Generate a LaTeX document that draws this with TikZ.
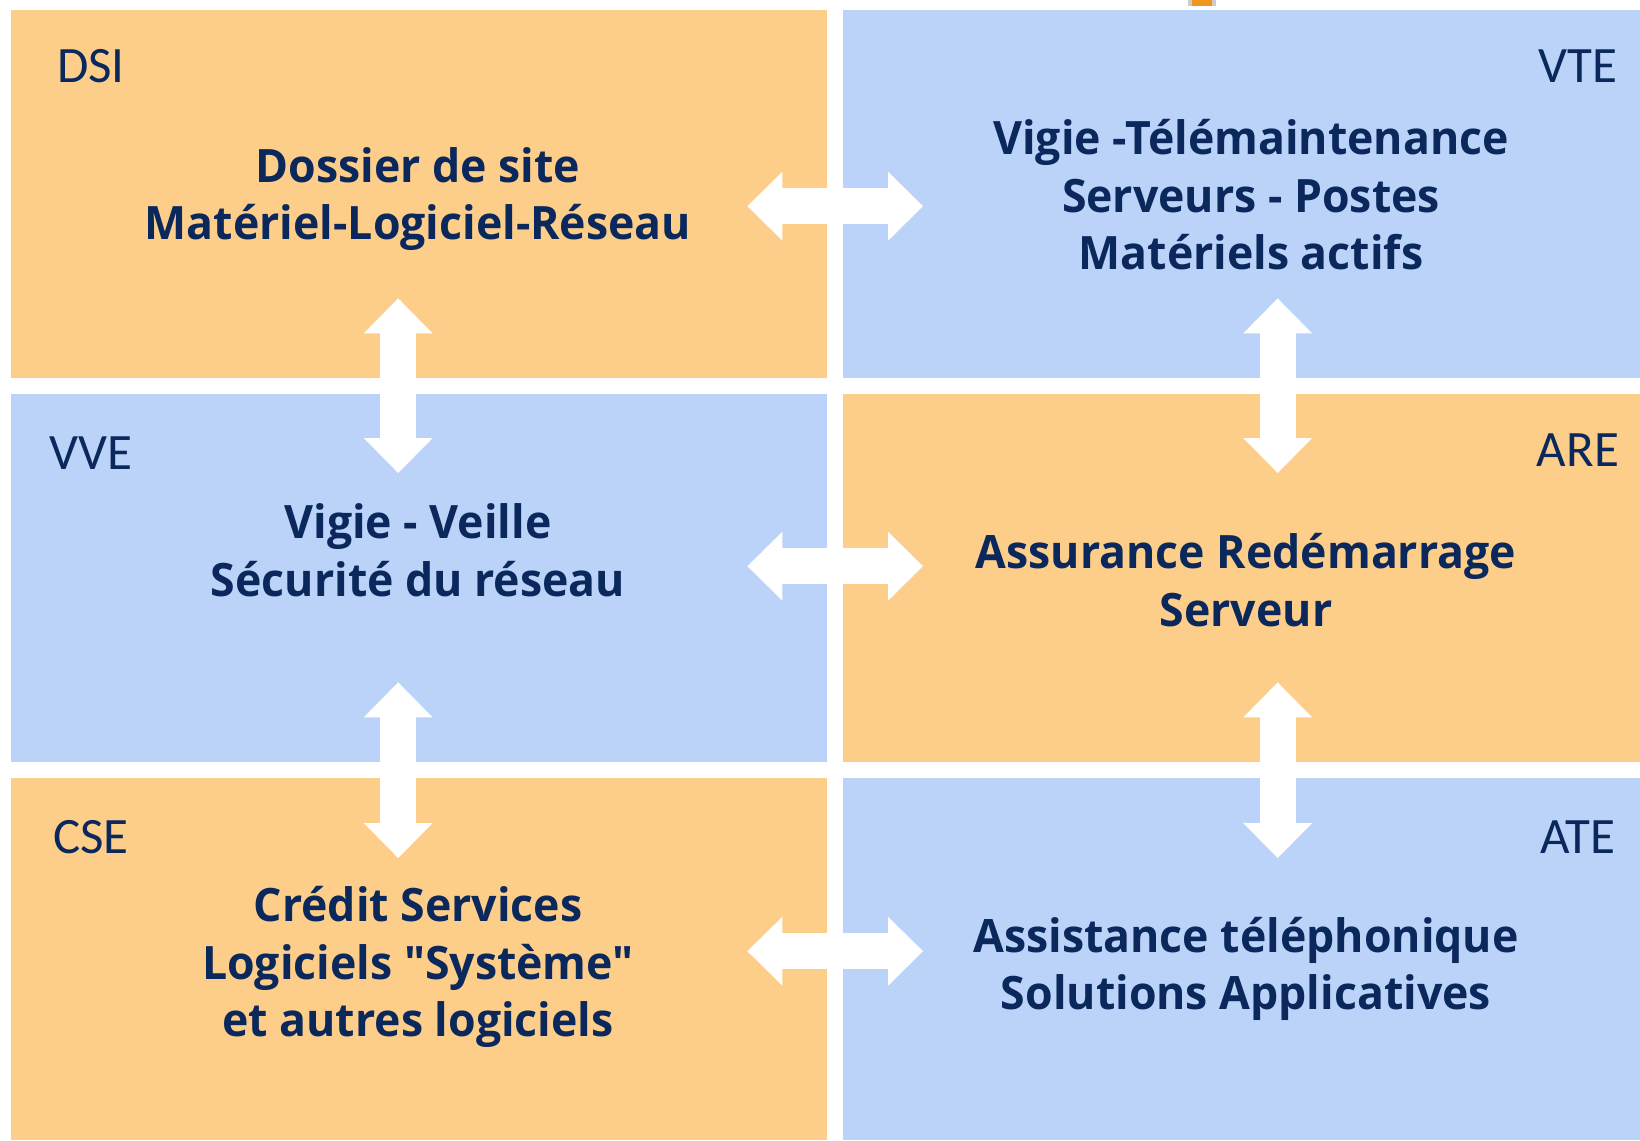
\documentclass[tikz,border=0pt]{standalone}
\usepackage{fontspec}
\usetikzlibrary{arrows.meta}
\newfontfamily\tagfont{Carlito}
\newfontfamily\blocfont{Open Sans}[FakeStretch=0.97]
\definecolor{warmfill}{RGB}{253,205,138}
\definecolor{coolfill}{RGB}{188,211,249}
\definecolor{navytext}{RGB}{10,40,92}
\definecolor{markorange}{RGB}{240,150,30}

\begin{document}
\begin{tikzpicture}[
    x=1pt, y=-1pt,
    box/.style={rectangle,inner sep=0pt,anchor=north west},
    warm/.style={box,fill=warmfill},
    cool/.style={box,fill=coolfill},
    tag/.style={font=\tagfont\fontsize{51}{51}\selectfont,text=navytext,inner sep=0pt,anchor=base},
    title/.style={font=\blocfont\bfseries\fontsize{46}{57.5}\selectfont,text=navytext,align=center,inner sep=0pt},
    flow/.style={draw=white,line width=36pt,
        {Triangle[length=35pt,width=69pt,line width=0pt]}-{Triangle[length=35pt,width=69pt,line width=0pt]}},
]
\useasboundingbox (0,0) rectangle (1640,1140);

% boxes
\node[warm,minimum width=816pt,minimum height=368pt] (dsi) at (11,10) {};
\node[cool,minimum width=797pt,minimum height=368pt] (vte) at (843,10) {};
\node[cool,minimum width=816pt,minimum height=368pt] (vve) at (11,394) {};
\node[warm,minimum width=797pt,minimum height=368pt] (are) at (843,394) {};
\node[warm,minimum width=816pt,minimum height=362pt] (cse) at (11,778) {};
\node[cool,minimum width=797pt,minimum height=362pt] (ate) at (843,778) {};

% small mark on top
\fill[gray!40] (1188,0) rectangle (1216,6);
\fill[markorange] (1192,0) rectangle (1212,6);

% tags
\node[tag] (dsitag) at (91,82) {DSI};
\node[tag] (vtetag) at (1578,82) {VTE};
\node[tag] (vvetag) at (91,469) {VVE};
\node[tag] (aretag) at (1578,466) {ARE};
\node[tag] (csetag) at (91,853) {CSE};
\node[tag] (atetag) at (1578,853) {ATE};

% titles
\node[title] (dsitext) at (418,199) {Dossier de site\\Matériel-Logiciel-Réseau};
\node[title] (vtetext) at (1251,195) {Vigie -Télémaintenance\\Serveurs - Postes\\Matériels actifs};
\node[title] (vvetext) at (418,550) {Vigie - Veille\\Sécurité du réseau};
\node[title] (aretext) at (1246,580) {Assurance Redémarrage\\Serveur};
\node[title] (csetext) at (418,967) {Crédit Services\\Logiciels "Système"\\et autres logiciels};
\node[title] (atetext) at (1246,969) {Assistance téléphonique\\Solutions Applicatives};

% arrows
\draw[flow] ([shift={(-80,12)}]dsi.east) -- ([shift={(80,12)}]vte.west);
\draw[flow] ([shift={(-80,-12)}]vve.east) -- ([shift={(80,-12)}]are.west);
\draw[flow] ([shift={(-80,-8)}]cse.east) -- ([shift={(80,-8)}]ate.west);
\draw[flow] ([shift={(-21,-80)}]dsi.south) -- ([shift={(-21,79)}]vve.north);
\draw[flow] ([shift={(-21,-80)}]vve.south) -- ([shift={(-21,80)}]cse.north);
\draw[flow] ([shift={(36,-80)}]vte.south) -- ([shift={(36,79)}]are.north);
\draw[flow] ([shift={(36,-80)}]are.south) -- ([shift={(36,80)}]ate.north);
\end{tikzpicture}
\end{document}
